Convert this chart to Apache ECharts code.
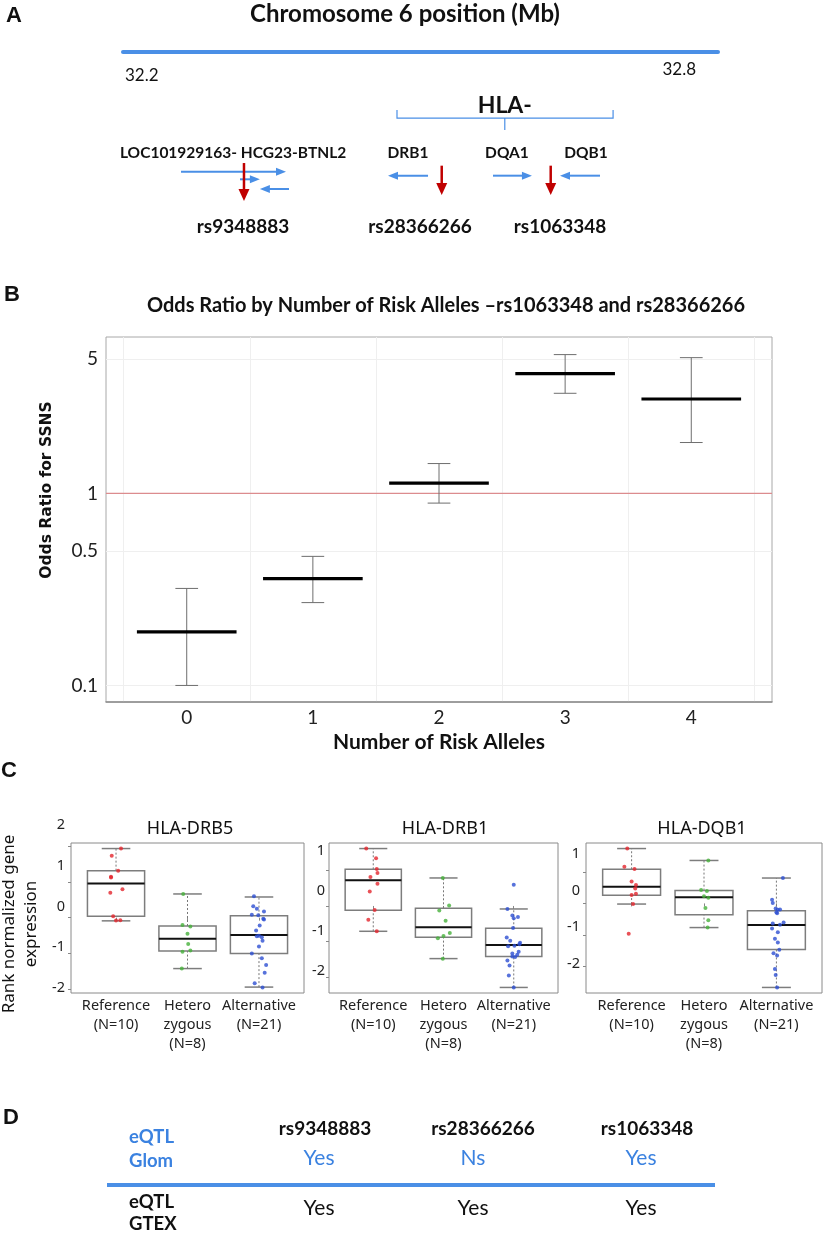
<!DOCTYPE html>
<html><head><meta charset="utf-8">
<script src="https://cdn.jsdelivr.net/npm/echarts@6/dist/echarts.min.js"></script>
<style>html,body{margin:0;padding:0;background:#fff}#c{width:827px;height:1234px}</style>
</head><body><div id="c"></div>
<script>
// ---------- Panel A data (Mb positions) ----------
const chrRange = [32.2, 32.8];
const chrTickLabels = [32.2, 32.8];
const geneLabels = ['LOC101929163- HCG23-BTNL2', 'DRB1', 'DQA1', 'DQB1'];
const geneLabelMb = [32.311, 32.4874, 32.5872, 32.6669];
const arrowStartMb = [32.2585, 32.318, 32.3674, 32.5076, 32.5731, 32.681];
const arrowEndMb = [32.3644, 32.338, 32.338, 32.4672, 32.6124, 32.6407];
const arrowTrack = [6.52, 7.21, 8.09, 6.88, 6.88, 6.88];
const snpNames = ['rs9348883', 'rs28366266', 'rs1063348'];
const snpMb = [32.322, 32.5214, 32.6313];
const snpLabelMb = [32.321, 32.4995, 32.6407];
const snpTrackTop = [5.73, 5.97, 5.97];
const snpTrackBottom = [9.18, 8.64, 8.64];
const hlaLabel = 'HLA-';
const hlaSpanMb = [32.4763, 32.6942];
const hlaCenterMb = 32.585;

// ---------- Panel B data ----------
const riskAlleles = [0, 1, 2, 3, 4];
const orEstimate = [0.19, 0.36, 1.13, 4.2, 3.1];
const orLower = [0.10, 0.27, 0.89, 3.32, 1.84];
const orUpper = [0.32, 0.47, 1.43, 5.28, 5.09];
const orTicks = [0.1, 0.5, 1, 5];
const orReference = 1;

// ---------- Panel C data ----------
const geneTitles = ['HLA-DRB5', 'HLA-DRB1', 'HLA-DQB1'];
const genotypeLabels = ['Reference\n(N=10)', 'Hetero\nzygous\n(N=8)', 'Alternative\n(N=21)'];
// box stats: [lower whisker, Q1, median, Q3, upper whisker] for Reference, Hetero, Alternative
const drb5Box = [[-0.09, 0.04, 0.96, 1.32, 1.94], [-1.43, -0.936, -0.59, -0.234, 0.665], [-1.95, -1.01, -0.487, 0.056, 0.58]];
const drb1Box = [[-0.715, -0.122, 0.724, 1.035, 1.62], [-1.486, -0.884, -0.602, -0.066, 0.79], [-2.30, -1.43, -1.10, -0.63, -0.085]];
const dqb1Box = [[-0.02, 0.26, 0.53, 1.09, 1.75], [-0.77, -0.36, 0.20, 0.41, 1.37], [-2.68, -1.47, -0.69, -0.23, 0.81]];
// individual points: values and horizontal jitter (category units)
const drb5Vals = [
  [1.94, 1.74, 1.32, 1.15, 1.13, 0.80, 0.70, 0.04, -0.08, -0.07],
  [0.665, -0.21, -0.25, -0.45, -0.74, -0.955, -0.92, -1.43],
  [0.60, 0.32, 0.25, 0.17, 0.08, 0.07, -0.03, -0.05, -0.22, -0.36, -0.52, -0.51, -0.55, -0.65, -0.81, -1.01, -1.14, -1.33, -1.55, -1.84, -1.96]];
const drb5Jit = [
  [0.07, -0.06, 0.03, -0.07, -0.07, 0.09, -0.08, -0.04, 0.00, 0.06],
  [-0.06, -0.07, 0.04, 0.00, 0.01, -0.07, 0.04, -0.08],
  [-0.07, -0.08, -0.03, 0.07, -0.10, -0.01, 0.06, 0.07, 0.01, -0.04, -0.03, 0.00, 0.04, 0.05, 0.00, -0.10, 0.04, 0.10, 0.08, -0.06, 0.05]];
const drb1Vals = [
  [1.62, 1.345, 1.044, 0.931, 0.818, 0.63, 0.405, -0.113, -0.386, -0.715],
  [0.79, 0.01, -0.13, -0.42, -0.76, -0.85, -0.91, -1.49],
  [0.60, -0.085, -0.27, -0.35, -0.31, -0.62, -0.89, -0.98, -1.04, -1.08, -1.12, -1.14, -1.29, -1.345, -1.38, -1.43, -1.54, -1.68, -1.96, -2.30, -1.44]];
const drb1Jit = [
  [-0.10, 0.04, 0.05, 0.06, -0.04, 0.06, -0.05, 0.02, -0.07, 0.05],
  [-0.01, 0.08, -0.06, 0.03, 0.09, 0.00, -0.08, -0.01],
  [0.00, -0.09, -0.02, 0.00, 0.06, -0.01, -0.10, -0.05, 0.09, 0.08, 0.01, -0.08, 0.07, -0.02, 0.05, -0.02, -0.09, -0.06, -0.07, 0.00, 0.02]];
const dqb1Vals = [
  [1.75, 1.17, 1.10, 0.70, 0.59, 0.475, 0.31, 0.27, -0.02, -0.97],
  [1.37, 0.43, 0.40, 0.23, 0.18, -0.15, -0.54, -0.77],
  [0.81, 0.12, 0.01, -0.16, -0.19, -0.20, -0.285, -0.31, -0.61, -0.64, -0.68, -0.80, -0.92, -1.13, -1.25, -1.48, -1.59, -1.66, -2.09, -2.28, -2.68]];
const dqb1Jit = [
  [-0.06, -0.10, 0.04, 0.00, 0.06, 0.05, 0.06, 0.00, 0.02, -0.04],
  [0.06, -0.04, 0.04, 0.00, 0.06, 0.02, 0.06, 0.05],
  [0.09, -0.06, -0.05, -0.01, 0.05, 0.02, 0.00, 0.01, 0.10, -0.05, 0.05, -0.06, 0.02, -0.02, 0.02, 0.04, -0.04, 0.01, -0.02, -0.01, 0.01]];
const exprTicks = [[-2, -1, 0, 1, 2], [-2, -1, 0, 1], [-2, -1, 0, 1]];

// ---------- Panel D data ----------
const tableSnps = ['rs9348883', 'rs28366266', 'rs1063348'];
const eqtlGlom = ['Yes', 'Ns', 'Yes'];
const eqtlGtex = ['Yes', 'Yes', 'Yes'];

// ================= build =================
const BLUE = '#4a8fe6', RED = '#c00000';
const ptColors = ['#e3262d', '#46b03b', '#2d4fd2'];
const boxes = [drb5Box, drb1Box, dqb1Box];
const vals = [drb5Vals, drb1Vals, dqb1Vals];
const jits = [drb5Jit, drb1Jit, dqb1Jit];

function arrowEls(p1, p2, color, w, headLen, headW) {
  const dx = p2[0] - p1[0], dy = p2[1] - p1[1];
  const len = Math.hypot(dx, dy), ux = dx / len, uy = dy / len;
  const bx = p2[0] - ux * headLen, by = p2[1] - uy * headLen;
  const nx = -uy, ny = ux;
  return [
    {type: 'line', shape: {x1: p1[0], y1: p1[1], x2: bx + ux, y2: by + uy}, style: {stroke: color, lineWidth: w}},
    {type: 'polygon', shape: {points: [[p2[0], p2[1]], [bx + nx * headW / 2, by + ny * headW / 2], [bx - nx * headW / 2, by - ny * headW / 2]]}, style: {fill: color}}
  ];
}
function txt(text, x, y, o) {
  return Object.assign({type: 'text', x: x, y: y, silent: true,
    style: Object.assign({text: text, align: 'center', verticalAlign: 'middle', textAlign: 'center', textVerticalAlign: 'middle',
      fill: '#111', fontFamily: 'Lato', fontSize: 16}, o.style || {})}, o.el || {});
}

const grids = [
  {left: 123, width: 595, top: 0, height: 52},
  {left: 123, width: 595, top: 100, height: 132},
  {left: 106, width: 666, top: 337, height: 365, show: true, borderColor: '#a8a8a8', borderWidth: 1},
  {left: 71, width: 233, top: 843, height: 150, show: true, borderColor: '#8a8a8a', borderWidth: 1},
  {left: 329, width: 229, top: 843, height: 150, show: true, borderColor: '#8a8a8a', borderWidth: 1},
  {left: 586, width: 236, top: 843, height: 150, show: true, borderColor: '#8a8a8a', borderWidth: 1},
  {left: 68, width: 2, top: 825, height: 163},
  {left: 328, width: 2, top: 851, height: 120},
  {left: 583, width: 2, top: 854, height: 110}
].map(g => Object.assign({outerBoundsMode: 'none', containLabel: false}, g));

const xAxes = [], yAxes = [], series = [];
// grid 0: chromosome axis
xAxes.push({gridIndex: 0, type: 'value', min: chrRange[0], max: chrRange[1], position: 'bottom',
  axisLine: {show: true, onZero: false, lineStyle: {color: BLUE, width: 4}},
  axisTick: {show: false}, splitLine: {show: false},
  axisLabel: {customValues: chrTickLabels, margin: 9, alignMinLabel: 'left', alignMaxLabel: 'right',
    formatter: v => (Math.abs(v - chrRange[0]) < 1e-9 ? '{a|' : '{b|') + v.toFixed(1) + '}',
    rich: {a: {padding: [6, 0, 0, 2], fontSize: 17, fontFamily: 'Lato', color: '#111'},
           b: {padding: [0, 22, 0, 0], fontSize: 17, fontFamily: 'Lato', color: '#111'}}}});
yAxes.push({gridIndex: 0, type: 'value', show: false, min: 0, max: 1});
// grid 1: gene diagram
xAxes.push({gridIndex: 1, type: 'value', show: false, min: chrRange[0], max: chrRange[1]});
yAxes.push({gridIndex: 1, type: 'value', show: false, min: 0, max: 12, inverse: true});
// grid 2: odds ratio
xAxes.push({gridIndex: 2, type: 'value', min: -0.64, max: 4.64,
  axisLine: {show: true, onZero: false, lineStyle: {color: '#8c8c8c', width: 1.5}},
  axisTick: {show: false, customValues: [-0.5, 0.5, 1.5, 2.5, 3.5, 4.5]},
  splitLine: {show: true, lineStyle: {color: '#efefef', width: 1}},
  axisLabel: {customValues: riskAlleles, fontSize: 19, color: '#222', margin: 6, fontFamily: 'Lato'}});
yAxes.push({gridIndex: 2, type: 'log', logBase: 10, min: 0.082, max: 6.52,
  axisLine: {show: false}, axisTick: {show: false, customValues: orTicks},
  splitLine: {show: true, lineStyle: {color: '#efefef', width: 1}},
  axisLabel: {customValues: orTicks, fontSize: 19, color: '#222', margin: 8, fontFamily: 'Lato',
    formatter: v => { const t = orTicks.find(x => Math.abs(x - v) < 1e-6); return t == null ? '' : String(t); }}});
// grids 3-5: expression boxplots
for (let g = 0; g < 3; g++) {
  const all = [].concat(...boxes[g], ...vals[g]);
  const lo = Math.min(...all), hi = Math.max(...all), r = hi - lo;
  xAxes.push({gridIndex: 3 + g, type: 'value', min: 0.37, max: 3.63,
    axisLine: {show: false}, splitLine: {show: false},
    axisTick: {show: true, customValues: [1, 2, 3], length: 3, lineStyle: {color: '#888'}},
    axisLabel: {customValues: [1, 2, 3], formatter: v => genotypeLabels[Math.round(v) - 1],
      fontFamily: 'Noto Sans', fontSize: 14.5, lineHeight: 19, color: '#222', margin: 3}});
  yAxes.push({gridIndex: 3 + g, type: 'value', min: lo - 0.04 * r, max: hi + 0.04 * r,
    axisLine: {show: false}, splitLine: {show: false}, axisLabel: {show: false},
    axisTick: {show: true, customValues: exprTicks[g], length: 3, lineStyle: {color: '#888'}}});
}
// grids 6-8: y label columns
for (let g = 0; g < 3; g++) {
  const t = exprTicks[g];
  xAxes.push({gridIndex: 6 + g, type: 'value', show: false, min: 0, max: 1});
  yAxes.push({gridIndex: 6 + g, type: 'value', min: t[0], max: t[t.length - 1],
    axisLine: {show: false}, axisTick: {show: false}, splitLine: {show: false},
    axisLabel: {customValues: t, fontFamily: 'Noto Sans', fontSize: 14.5, color: '#222', margin: 3}});
}

// ---- Panel A series ----
series.push({type: 'custom', xAxisIndex: 1, yAxisIndex: 1, silent: true,
  data: arrowStartMb.map((s, i) => [s, arrowEndMb[i], arrowTrack[i]]),
  encode: {x: [0, 1], y: 2},
  renderItem: (p, api) => ({type: 'group', children: arrowEls(api.coord([api.value(0), api.value(2)]), api.coord([api.value(1), api.value(2)]), BLUE, 2, 10, 8)})});
series.push({type: 'custom', xAxisIndex: 1, yAxisIndex: 1, silent: true, z: 3,
  data: snpMb.map((m, i) => [m, snpTrackTop[i], snpTrackBottom[i], i, snpLabelMb[i]]),
  encode: {x: 0, y: [1, 2]},
  renderItem: (p, api) => {
    const a = api.coord([api.value(0), api.value(1)]), b = api.coord([api.value(0), api.value(2)]);
    const lab = api.coord([api.value(4), 11.55]);
    return {type: 'group', children: arrowEls(a, b, RED, 2.5, 12, 11).concat([
      txt(snpNames[api.value(3)], lab[0], lab[1], {style: {fontWeight: 'bold', fontSize: 19}})])};
  }});
series.push({type: 'custom', xAxisIndex: 1, yAxisIndex: 1, silent: true,
  data: geneLabelMb.map((m, i) => [m, 4.82, i]),
  renderItem: (p, api) => {
    const c = api.coord([api.value(0), api.value(1)]);
    return txt(geneLabels[api.value(2)], c[0], c[1], {style: {fontWeight: 'bold', fontSize: 15.5}});
  }});
series.push({type: 'custom', xAxisIndex: 1, yAxisIndex: 1, silent: true,
  data: [[hlaSpanMb[0], hlaSpanMb[1], hlaCenterMb]],
  renderItem: (p, api) => {
    const l = api.coord([api.value(0), 0.91]), l2 = api.coord([api.value(0), 1.64]);
    const r = api.coord([api.value(1), 0.91]), r2 = api.coord([api.value(1), 1.64]);
    const c1 = api.coord([api.value(2), 1.64]), c2 = api.coord([api.value(2), 2.73]);
    const t = api.coord([api.value(2), 0.55]);
    return {type: 'group', children: [
      {type: 'polyline', shape: {points: [l, l2, r2, r]}, style: {stroke: BLUE, lineWidth: 1.2, fill: null}},
      {type: 'line', shape: {x1: c1[0], y1: c1[1], x2: c2[0], y2: c2[1]}, style: {stroke: BLUE, lineWidth: 1.2}},
      txt(hlaLabel, t[0], t[1], {style: {fontWeight: 'bold', fontSize: 23}})]};
  }});

// ---- Panel B series ----
series.push({type: 'custom', xAxisIndex: 2, yAxisIndex: 2, silent: true, z: 1,
  data: [[orReference]],
  encode: {y: 0},
  renderItem: (p, api) => {
    const cs = p.coordSys;
    const y = api.coord([0, api.value(0)])[1];
    return {type: 'line', shape: {x1: cs.x, y1: y, x2: cs.x + cs.width, y2: y}, style: {stroke: '#dc8c8e', lineWidth: 1.2}};
  }});
series.push({type: 'custom', xAxisIndex: 2, yAxisIndex: 2, silent: true, z: 2,
  data: riskAlleles.map((a, i) => [a, orLower[i], orUpper[i]]),
  encode: {x: 0, y: [1, 2]},
  renderItem: (p, api) => {
    const x = api.value(0);
    const a = api.coord([x, api.value(1)]), b = api.coord([x, api.value(2)]);
    const hw = api.coord([x + 0.09, api.value(1)])[0] - a[0];
    const st = {stroke: '#6e6e6e', lineWidth: 1};
    return {type: 'group', children: [
      {type: 'line', shape: {x1: a[0], y1: a[1], x2: b[0], y2: b[1]}, style: st},
      {type: 'line', shape: {x1: a[0] - hw, y1: a[1], x2: a[0] + hw, y2: a[1]}, style: st},
      {type: 'line', shape: {x1: b[0] - hw, y1: b[1], x2: b[0] + hw, y2: b[1]}, style: st}]};
  }});
series.push({type: 'custom', xAxisIndex: 2, yAxisIndex: 2, silent: true, z: 4,
  data: riskAlleles.map((a, i) => [a, orEstimate[i]]),
  encode: {x: 0, y: 1},
  renderItem: (p, api) => {
    const x = api.value(0), y = api.value(1);
    const a = api.coord([x - 0.395, y]), b = api.coord([x + 0.395, y]);
    return {type: 'line', shape: {x1: a[0], y1: a[1], x2: b[0], y2: b[1]}, style: {stroke: '#000', lineWidth: 3.2}};
  }});

// ---- Panel C series ----
for (let g = 0; g < 3; g++) {
  series.push({type: 'custom', xAxisIndex: 3 + g, yAxisIndex: 3 + g, silent: true, z: 2,
    data: boxes[g].map((b, k) => [k + 1].concat(b)),
    encode: {x: 0, y: [1, 2, 3, 4, 5]},
    renderItem: (p, api) => {
      const x = api.value(0);
      const P = (dx, v) => api.coord([x + dx, api.value(v)]);
      const lw = P(0, 1), q1 = P(0, 2), q3 = P(0, 4), hw = P(0, 5);
      const capL = P(-0.2, 1)[0], capR = P(0.2, 1)[0];
      const bl = P(-0.4, 4), br = P(0.4, 2);
      const md1 = P(-0.4, 3), md2 = P(0.4, 3);
      const grey = '#7d7d7d';
      return {type: 'group', children: [
        {type: 'line', shape: {x1: lw[0], y1: lw[1], x2: q1[0], y2: q1[1]}, style: {stroke: '#777', lineWidth: 1, lineDash: [2, 2]}},
        {type: 'line', shape: {x1: q3[0], y1: q3[1], x2: hw[0], y2: hw[1]}, style: {stroke: '#777', lineWidth: 1, lineDash: [2, 2]}},
        {type: 'line', shape: {x1: capL, y1: lw[1], x2: capR, y2: lw[1]}, style: {stroke: grey, lineWidth: 1.5}},
        {type: 'line', shape: {x1: capL, y1: hw[1], x2: capR, y2: hw[1]}, style: {stroke: grey, lineWidth: 1.5}},
        {type: 'rect', shape: {x: bl[0], y: bl[1], width: br[0] - bl[0], height: br[1] - bl[1]}, style: {stroke: grey, lineWidth: 1.5, fill: null}},
        {type: 'line', shape: {x1: md1[0], y1: md1[1], x2: md2[0], y2: md2[1]}, style: {stroke: '#111', lineWidth: 2}}]};
    }});
  const pts = [];
  vals[g].forEach((arr, k) => arr.forEach((v, i) => pts.push({value: [k + 1 + jits[g][k][i], v], itemStyle: {color: ptColors[k]}})));
  series.push({type: 'scatter', xAxisIndex: 3 + g, yAxisIndex: 3 + g, silent: true, z: 5,
    symbol: 'circle', symbolSize: 4, data: pts});
}

// ---- graphic texts ----
const gfx = [];
const letter = (t, x, y) => txt(t, x, y, {style: {fontFamily: 'Liberation Sans', fontWeight: 'bold', fontSize: 22}});
gfx.push(letter('A', 14, 16), letter('B', 12, 295), letter('C', 9, 771), letter('D', 11, 1118));
gfx.push(txt('Chromosome 6 position (Mb)', 405, 14, {style: {fontWeight: 'bold', fontSize: 24}}));
gfx.push(txt('Odds Ratio by Number of Risk Alleles \u2013rs1063348 and rs28366266', 446, 306, {style: {fontWeight: 'bold', fontSize: 20}}));
gfx.push(txt('Number of Risk Alleles', 439, 742, {style: {fontWeight: 'bold', fontSize: 21}}));
gfx.push(txt('Odds Ratio for SSNS', 47, 490, {style: {fontFamily: 'DejaVu Sans', fontWeight: 'bold', fontSize: 15.5}, el: {rotation: Math.PI / 2}}));
gfx.push(txt('Rank normalized gene\nexpression', 20, 924, {style: {fontFamily: 'Noto Sans', fontSize: 17, lineHeight: 22.5}, el: {rotation: Math.PI / 2}}));
const cTitleX = [190, 445, 702];
geneTitles.forEach((t, i) => gfx.push(txt(t, cTitleX[i], 829, {style: {fontFamily: 'Noto Sans', fontSize: 18}})));
// Panel D table
const hdrX = [325, 483, 647], valX = [319, 473, 641];
const BLUE_T = '#3b82e0';
gfx.push(txt('eQTL', 129, 1137, {style: {align: 'left', textAlign: 'left', fill: BLUE_T, fontWeight: 'bold', fontSize: 18.5}}));
gfx.push(txt('Glom', 129, 1161, {style: {align: 'left', textAlign: 'left', fill: BLUE_T, fontWeight: 'bold', fontSize: 18.5}}));
gfx.push(txt('eQTL', 129, 1202, {style: {align: 'left', textAlign: 'left', fontWeight: 'bold', fontSize: 18.5}}));
gfx.push(txt('GTEX', 129, 1224, {style: {align: 'left', textAlign: 'left', fontWeight: 'bold', fontSize: 18.5}}));
tableSnps.forEach((s, i) => gfx.push(txt(s, hdrX[i], 1129, {style: {fontWeight: 'bold', fontSize: 19}})));
eqtlGlom.forEach((s, i) => gfx.push(txt(s, valX[i], 1158, {style: {fill: BLUE_T, fontSize: 21}})));
eqtlGtex.forEach((s, i) => gfx.push(txt(s, valX[i], 1208, {style: {fontSize: 21}})));
gfx.push({type: 'line', silent: true, shape: {x1: 107, y1: 1185, x2: 715, y2: 1185}, style: {stroke: BLUE, lineWidth: 4}});

const chart = echarts.init(document.getElementById('c'), null, {width: 827, height: 1234});
chart.setOption({
  animation: false, backgroundColor: '#fff',
  textStyle: {fontFamily: 'Lato'},
  grid: grids, xAxis: xAxes, yAxis: yAxes, series: series, graphic: {elements: gfx}
});
</script></body></html>
